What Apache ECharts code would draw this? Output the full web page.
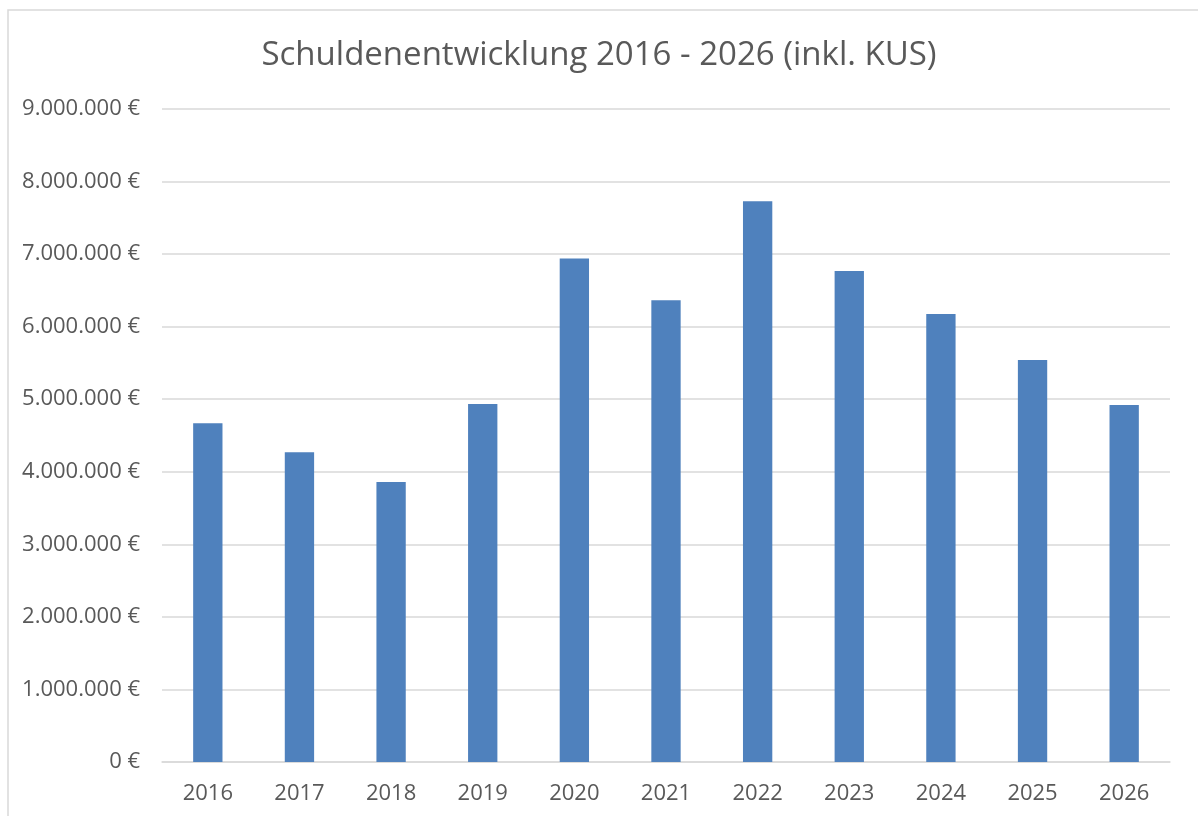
<!DOCTYPE html>
<html>
<head>
<meta charset="utf-8">
<script src="https://cdn.jsdelivr.net/npm/echarts@6/dist/echarts.min.js"></script>
<style>
html,body{margin:0;padding:0;background:#fff;}
#c{width:1198px;height:816px;}
</style>
</head>
<body>
<div id="c"></div>
<script>
const titleText = "Schuldenentwicklung 2016 - 2026 (inkl. KUS)";
const years = ["2016","2017","2018","2019","2020","2021","2022","2023","2024","2025","2026"];
const debt = [4670000, 4270000, 3860000, 4935000, 6940000, 6365000, 7727000, 6767000, 6175000, 5541000, 4921000];
const yMin = 0, yMax = 9000000, yStep = 1000000;

function fmtEuro(v){
  const s = Math.round(v).toString().replace(/\B(?=(\d{3})+(?!\d))/g, ".");
  return s + " €";
}

const chart = echarts.init(document.getElementById('c'), null, {renderer:'canvas'});
chart.setOption({
  animation:false,
  backgroundColor:'#fff',
  graphic:[{
    type:'rect', shape:{x:8,y:10,width:1200,height:820},
    style:{fill:'none',stroke:'#d9d9d9',lineWidth:1.5}, silent:true
  }],
  title:{
    text:titleText, left:'center', top:34,
    textStyle:{fontFamily:'Open Sans', fontSize:33, fontWeight:'normal', color:'#595959'}
  },
  grid:{left:162, right:28, top:109, bottom:54, containLabel:false},
  xAxis:{
    type:'category', data:years,
    axisLine:{show:true, lineStyle:{color:'#d9d9d9', width:1.5}},
    axisTick:{show:false},
    axisLabel:{color:'#595959', fontFamily:'Open Sans', fontSize:22, margin:21}
  },
  yAxis:{
    type:'value', min:yMin, max:yMax, interval:yStep,
    axisLine:{show:false}, axisTick:{show:false},
    splitLine:{lineStyle:{color:'#d9d9d9', width:1.5}},
    axisLabel:{color:'#595959', fontFamily:'Open Sans', fontSize:22, margin:22, formatter:fmtEuro}
  },
  series:[{
    type:'bar', data:debt, barCategoryGap:'68%',
    itemStyle:{color:'#4f81bd'}
  }]
});
</script>
</body>
</html>
